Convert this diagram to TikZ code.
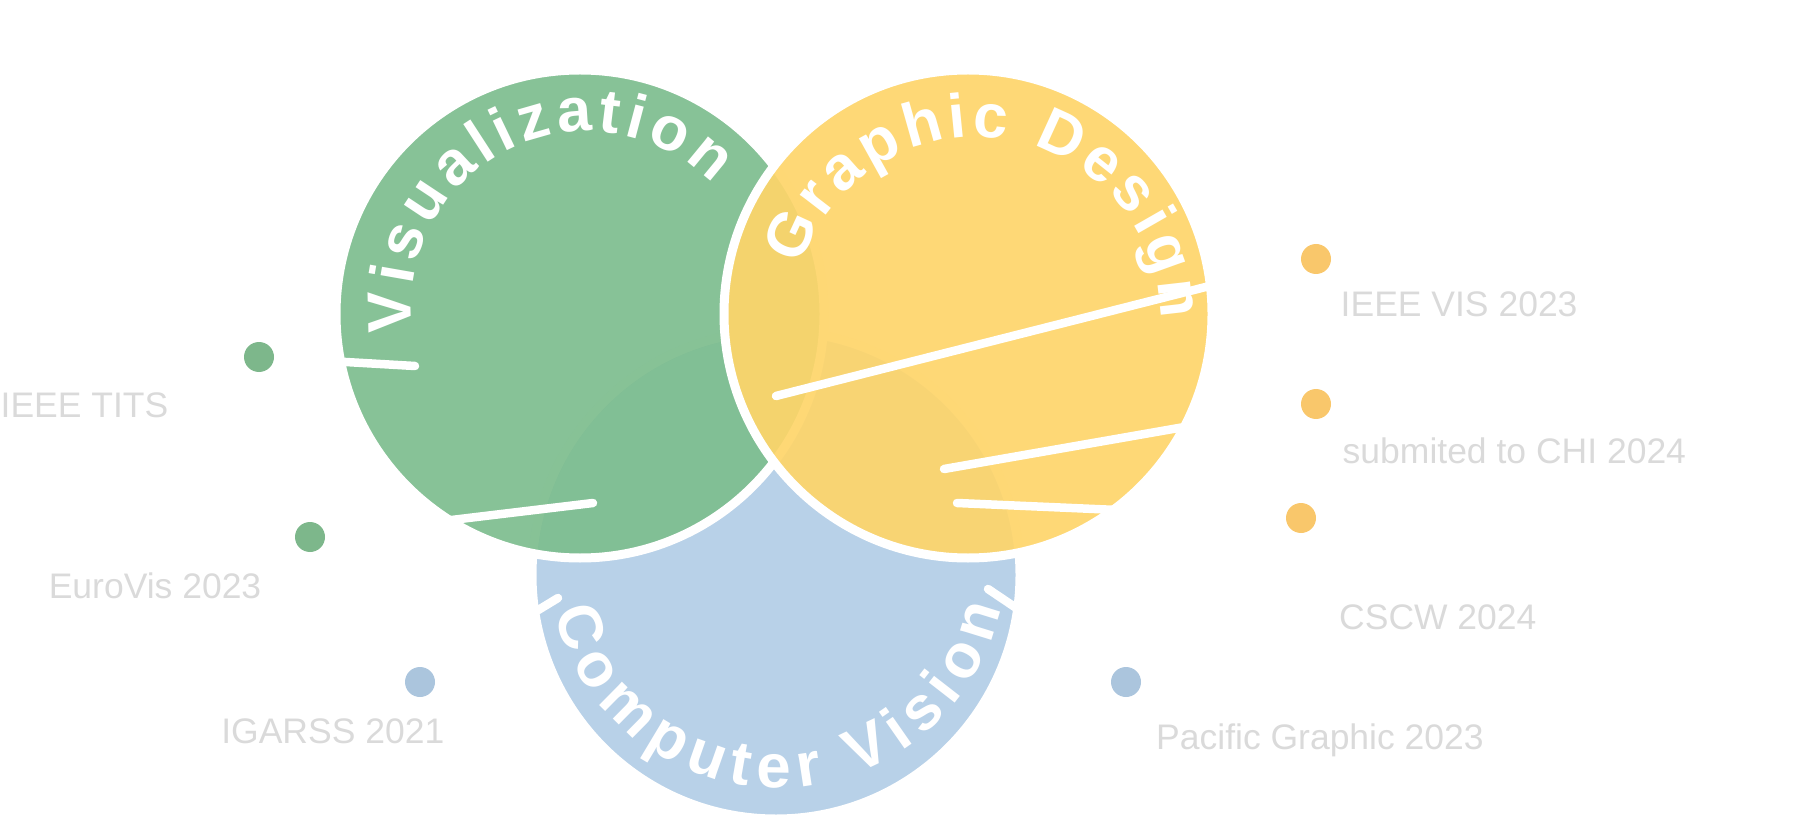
\documentclass[tikz,border=0pt]{standalone}
\usepackage{fontspec}
\setmainfont{Liberation Sans}
\usetikzlibrary{decorations.text}
\definecolor{vizgreen}{RGB}{125,189,142}
\definecolor{gdyellow}{RGB}{254,213,106}
\definecolor{cvblue}{RGB}{178,205,230}
\definecolor{greendot}{RGB}{125,183,139}
\definecolor{yellowdot}{RGB}{249,199,107}
\definecolor{bluedot}{RGB}{171,197,221}
\definecolor{venuegray}{RGB}{218,218,218}
\newcommand{\CircText}{\fontsize{17.6pt}{20pt}\selectfont\bfseries}

\begin{document}
\begin{tikzpicture}[
    bubble/.style={circle, minimum size=4.88cm, inner sep=0pt, draw=white, line width=0.09cm, fill opacity=0.92},
    dot/.style={circle, minimum size=0.3cm, inner sep=0pt},
    link/.style={white, line width=0.085cm, line cap=round, shorten <=0.06cm},
    venue/.style={text=venuegray, inner sep=0pt, font=\fontsize{10.1pt}{12pt}\selectfont},
    arclabel/.style={decorate, decoration={text along path, text color=white, text align=fit to path, text={|\CircText|#1}}}
]
    \useasboundingbox (0,0) rectangle (18.01,8.25);

    % Define circles
    \node [bubble, fill=cvblue] (cv) at (7.76,2.50) {};
    \node [bubble, fill=vizgreen] (vis) at (5.80,5.11) {};
    \node [bubble, fill=gdyellow] (gd) at (9.68,5.11) {};

    % Define dots
    \node [dot, fill=greendot] (tits) at (2.59,4.68) {};
    \node [dot, fill=greendot] (eurovis) at (3.10,2.88) {};
    \node [dot, fill=bluedot] (igarss) at (4.20,1.43) {};
    \node [dot, fill=yellowdot] (ieeevis) at (13.16,5.66) {};
    \node [dot, fill=yellowdot] (chi) at (13.16,4.21) {};
    \node [dot, fill=yellowdot] (cscw) at (13.01,3.07) {};
    \node [dot, fill=bluedot] (pacific) at (11.26,1.43) {};

    % Line ends inside the circles
    \coordinate (titsend) at (4.15,4.59);
    \coordinate (eurovisend) at (5.93,3.22);
    \coordinate (igarssend) at (5.58,2.27);
    \coordinate (ieeevisend) at (7.76,4.29);
    \coordinate (chiend) at (9.44,3.56);
    \coordinate (cscwend) at (9.57,3.22);
    \coordinate (pacificend) at (9.88,2.36);

    % Define lines
    \draw[link] (tits) -- (titsend);
    \draw[link] (eurovis) -- (eurovisend);
    \draw[link] (igarss) -- (igarssend);
    \draw[link] (ieeevis) -- (ieeevisend);
    \draw[link] (chi) -- (chiend);
    \draw[link] (cscw) -- (cscwend);
    \draw[link] (pacific) -- (pacificend);

    % Circle titles
    \path[arclabel=Visualization] ([shift={(188:1.76)}]5.87,5.175) arc[start angle=188, end angle=44.4, radius=1.76];
    \path[arclabel=Graphic Design] ([shift={(162.6:1.84)}]9.77,5.04) arc[start angle=162.6, end angle=0.6, radius=1.84];
    \path[arclabel=Computer Vision] ([shift={(193.5:2.29)}]7.77,2.66) arc[start angle=193.5, end angle=347.5, radius=2.29];

    % Venue labels
    \node[venue, anchor=base east] (titslabel) at (1.69,4.07) {IEEE TITS};
    \node[venue, anchor=base east] (eurovislabel) at (2.62,2.27) {EuroVis 2023};
    \node[venue, anchor=base east] (igarsslabel) at (4.45,0.82) {IGARSS 2021};
    \node[venue, anchor=base west] (ieeevislabel) at (13.40,5.08) {IEEE VIS 2023};
    \node[venue, anchor=base west] (chilabel) at (13.42,3.62) {submited to CHI 2024};
    \node[venue, anchor=base west] (cscwlabel) at (13.385,1.96) {CSCW 2024};
    \node[venue, anchor=base west] (pacificlabel) at (11.555,0.76) {Pacific Graphic 2023};

\end{tikzpicture}
\end{document}
